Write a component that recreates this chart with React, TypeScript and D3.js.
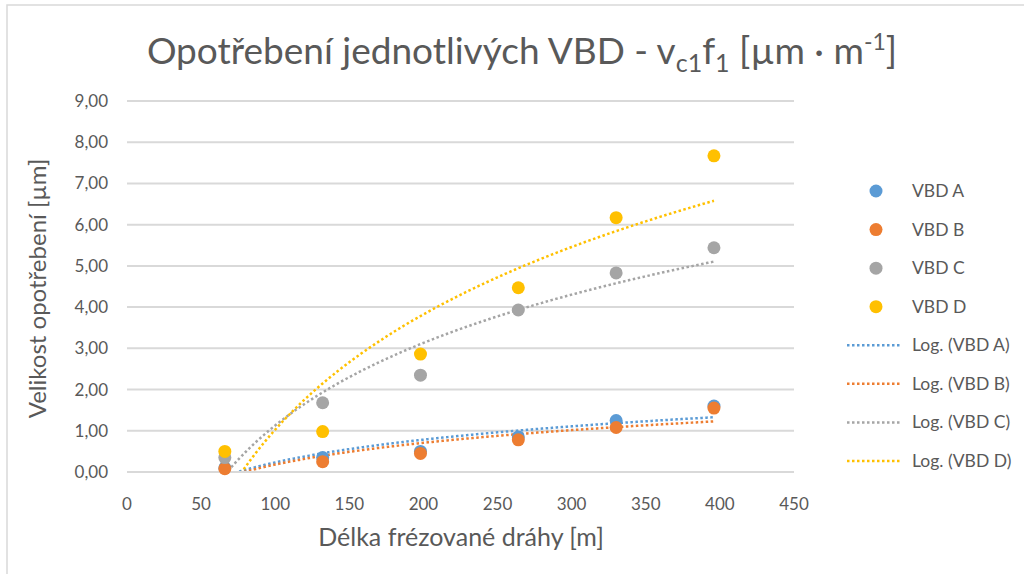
import React from 'react';
import * as d3 from 'd3';

// distance along the milling path [m]
const distances = [66, 132, 198, 264, 330, 396];

// wear of each insert [µm]
const vbdA = [0.1, 0.35, 0.5, 0.85, 1.25, 1.6];
const vbdB = [0.08, 0.25, 0.45, 0.78, 1.08, 1.55];
const vbdC = [0.35, 1.68, 2.35, 3.93, 4.83, 5.44];
const vbdD = [0.5, 0.98, 2.86, 4.47, 6.17, 7.67];

const seriesNames = ['VBD A', 'VBD B', 'VBD C', 'VBD D'];
const seriesColors = ['#5B9BD5', '#ED7D31', '#A5A5A5', '#FFC000'];

const xTicks = [0, 50, 100, 150, 200, 250, 300, 350, 400, 450];
const yTicks = [0, 1, 2, 3, 4, 5, 6, 7, 8, 9];

const width = 1024;
const height = 574;
const left = 127;
const right = 794;
const top = 101;
const bottom = 472;

const font = "Lato, 'Open Sans', sans-serif";

// least squares fit y = a*ln(x) + b, like the Excel trendline
const logFit = (xs: number[], ys: number[]) => {
  const lx = xs.map((x) => Math.log(x));
  const mx = d3.mean(lx) as number;
  const my = d3.mean(ys) as number;
  const sxy = d3.sum(lx, (v, i) => (v - mx) * (ys[i] - my));
  const sxx = d3.sum(lx, (v) => (v - mx) * (v - mx));
  const a = sxy / sxx;
  return { a, b: my - a * mx };
};

export default function App() {
  const series = [vbdA, vbdB, vbdC, vbdD];

  const x = d3.scaleLinear().domain([0, 450]).range([left, right]);
  const y = d3.scaleLinear().domain([0, 9]).range([bottom, top]);

  const xMin = d3.min(distances) as number;
  const xMax = d3.max(distances) as number;
  const samples = d3.range(xMin, xMax + 0.5, 1);

  const line = d3
    .line<[number, number]>()
    .x((d) => x(d[0]))
    .y((d) => y(d[1]));

  const trends = series.map((vals) => {
    const { a, b } = logFit(distances, vals);
    return line(samples.map((s) => [s, a * Math.log(s) + b] as [number, number]));
  });

  const legendX = 876;
  const legendY = d3.scaleLinear().domain([0, 7]).range([191, 461]);

  return (
    <svg
      width={width}
      height={height}
      style={{ position: 'absolute', left: 0, top: 0, background: '#fff' }}
      fontFamily={font}
    >
      <defs>
        <clipPath id='plot'>
          <rect x={left} y={top - 2} width={right - left} height={bottom - top + 1} />
        </clipPath>
      </defs>
      <rect x={7} y={5} width={1030} height={600} fill='none' stroke='#D9D9D9' strokeWidth={1.5} />

      <text x={522} y={64} textAnchor='middle' fontSize={37} fill='#595959'>
        Opotřebení jednotlivých VBD - v
        <tspan fontSize={25} dy={8}>c1</tspan>
        <tspan dy={-8}>f</tspan>
        <tspan fontSize={25} dy={8}>1</tspan>
        <tspan dy={-8}> [µm · m</tspan>
        <tspan fontSize={23} dy={-14}>-1</tspan>
        <tspan dy={14}>]</tspan>
      </text>

      {yTicks.map((t) => (
        <g key={'y' + t}>
          <line x1={left} x2={right} y1={y(t)} y2={y(t)} stroke='#D9D9D9' strokeWidth={2} />
          <text x={108} y={y(t) + 6} textAnchor='end' fontSize={17} fill='#595959'>
            {t.toFixed(2).replace('.', ',')}
          </text>
        </g>
      ))}
      {xTicks.map((t) => (
        <text key={'x' + t} x={x(t)} y={510} textAnchor='middle' fontSize={17} fill='#595959'>
          {t}
        </text>
      ))}

      <text
        transform={`translate(46, ${(top + bottom) / 2 + 2}) rotate(-90)`}
        textAnchor='middle'
        fontSize={24}
        fill='#595959'
      >
        Velikost opotřebení [µm]
      </text>
      <text x={461} y={546} textAnchor='middle' fontSize={25} fill='#595959'>
        Délka frézované dráhy [m]
      </text>

      <g clipPath='url(#plot)'>
        {trends.map((d, i) => (
          <path
            key={'t' + i}
            d={d || ''}
            fill='none'
            stroke={seriesColors[i]}
            strokeWidth={2.5}
            strokeDasharray='2.5 2.5'
          />
        ))}
      </g>

      {series.map((vals, i) =>
        vals.map((v, j) => (
          <circle key={`p${i}-${j}`} cx={x(distances[j])} cy={y(v)} r={6.5} fill={seriesColors[i]} />
        ))
      )}

      {seriesNames.map((name, i) => (
        <g key={'l' + i}>
          <circle cx={legendX} cy={legendY(i)} r={6.5} fill={seriesColors[i]} />
          <text x={912} y={legendY(i) + 6} fontSize={17.5} fill='#595959'>
            {name}
          </text>
        </g>
      ))}
      {seriesNames.map((name, i) => (
        <g key={'lt' + i}>
          <line
            x1={847}
            x2={901}
            y1={legendY(i + 4)}
            y2={legendY(i + 4)}
            stroke={seriesColors[i]}
            strokeWidth={2.5}
            strokeDasharray='2.5 2.5'
          />
          <text x={912} y={legendY(i + 4) + 6} fontSize={17.5} fill='#595959'>
            Log. ({name})
          </text>
        </g>
      ))}
    </svg>
  );
}
